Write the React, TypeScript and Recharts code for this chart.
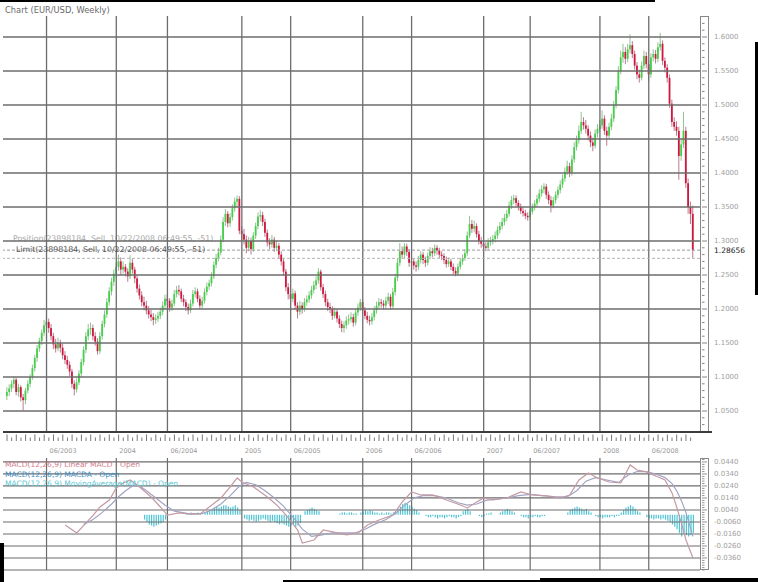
import React from 'react';
import { ComposedChart, Bar, Line, XAxis, YAxis, ReferenceLine } from 'recharts';

const FONT = '"DejaVu Sans", Verdana, sans-serif';
const GRID = '#6c6c6c';

// weekly candles [open, high, low, close]
const candles2003 = [
  [1.072, 1.085, 1.066, 1.078], [1.078, 1.089, 1.072, 1.083], [1.083, 1.095, 1.078, 1.09], [1.09, 1.101, 1.084, 1.096], [1.096, 1.099, 1.073, 1.078],
  [1.078, 1.09, 1.071, 1.085], [1.085, 1.088, 1.064, 1.07], [1.07, 1.075, 1.051, 1.066], [1.066, 1.084, 1.06, 1.08], [1.08, 1.095, 1.076, 1.09],
  [1.09, 1.104, 1.085, 1.1], [1.1, 1.118, 1.096, 1.113], [1.113, 1.133, 1.108, 1.128], [1.128, 1.147, 1.122, 1.142], [1.142, 1.158, 1.137, 1.153],
  [1.153, 1.17, 1.147, 1.165], [1.165, 1.184, 1.16, 1.176], [1.176, 1.192, 1.168, 1.181], [1.181, 1.186, 1.165, 1.172], [1.172, 1.178, 1.154, 1.16],
  [1.16, 1.165, 1.141, 1.148], [1.148, 1.156, 1.136, 1.142], [1.142, 1.158, 1.138, 1.15], [1.15, 1.155, 1.136, 1.143], [1.143, 1.149, 1.126, 1.132],
  [1.132, 1.138, 1.119, 1.125], [1.125, 1.131, 1.112, 1.118], [1.118, 1.123, 1.101, 1.108], [1.108, 1.112, 1.084, 1.09], [1.09, 1.095, 1.073, 1.082],
  [1.082, 1.098, 1.077, 1.092], [1.092, 1.11, 1.088, 1.105], [1.105, 1.127, 1.1, 1.122], [1.122, 1.145, 1.117, 1.14], [1.14, 1.166, 1.135, 1.16],
  [1.16, 1.178, 1.154, 1.17], [1.17, 1.18, 1.162, 1.172], [1.172, 1.177, 1.154, 1.16], [1.16, 1.166, 1.146, 1.152], [1.152, 1.157, 1.133, 1.138],
  [1.138, 1.166, 1.134, 1.16], [1.16, 1.183, 1.155, 1.178], [1.178, 1.198, 1.173, 1.192], [1.192, 1.216, 1.187, 1.21], [1.21, 1.232, 1.205, 1.226],
  [1.226, 1.246, 1.22, 1.24], [1.24, 1.258, 1.234, 1.252],
];
const candles2004 = [
  [1.252, 1.268, 1.246, 1.262], [1.262, 1.28, 1.256, 1.27], [1.27, 1.276, 1.25, 1.258], [1.258, 1.27, 1.252, 1.262], [1.262, 1.266, 1.248, 1.255],
  [1.255, 1.26, 1.24, 1.248], [1.248, 1.279, 1.244, 1.268], [1.268, 1.274, 1.252, 1.258], [1.258, 1.262, 1.238, 1.245], [1.245, 1.25, 1.224, 1.23],
  [1.23, 1.236, 1.214, 1.22], [1.22, 1.226, 1.204, 1.21], [1.21, 1.218, 1.198, 1.205], [1.205, 1.212, 1.192, 1.198], [1.198, 1.204, 1.186, 1.192],
  [1.192, 1.199, 1.182, 1.188], [1.188, 1.194, 1.176, 1.184], [1.184, 1.192, 1.178, 1.186], [1.186, 1.196, 1.181, 1.19], [1.19, 1.202, 1.185, 1.196],
  [1.196, 1.211, 1.191, 1.205], [1.205, 1.221, 1.2, 1.215], [1.215, 1.222, 1.206, 1.212], [1.212, 1.216, 1.196, 1.202], [1.202, 1.214, 1.197, 1.208],
  [1.208, 1.228, 1.204, 1.222], [1.222, 1.234, 1.217, 1.228], [1.228, 1.235, 1.22, 1.226], [1.226, 1.23, 1.21, 1.215], [1.215, 1.221, 1.204, 1.21],
  [1.21, 1.214, 1.197, 1.203], [1.203, 1.208, 1.192, 1.198], [1.198, 1.214, 1.194, 1.208], [1.208, 1.228, 1.204, 1.222], [1.222, 1.232, 1.217, 1.226],
  [1.226, 1.23, 1.21, 1.215], [1.215, 1.22, 1.2, 1.205], [1.205, 1.218, 1.201, 1.212], [1.212, 1.23, 1.208, 1.225], [1.225, 1.239, 1.22, 1.233],
  [1.233, 1.243, 1.228, 1.238], [1.238, 1.254, 1.233, 1.248], [1.248, 1.27, 1.244, 1.265], [1.265, 1.281, 1.26, 1.275], [1.275, 1.29, 1.27, 1.283],
  [1.283, 1.308, 1.279, 1.302], [1.302, 1.335, 1.298, 1.328], [1.328, 1.347, 1.322, 1.34], [1.34, 1.344, 1.32, 1.326], [1.326, 1.341, 1.321, 1.335],
  [1.335, 1.354, 1.33, 1.348], [1.348, 1.364, 1.343, 1.358], [1.358, 1.367, 1.35, 1.362], [1.362, 1.366, 1.31, 1.315],
];
const candles2005 = [
  [1.315, 1.322, 1.302, 1.31], [1.31, 1.318, 1.295, 1.302], [1.302, 1.308, 1.282, 1.29], [1.29, 1.306, 1.285, 1.3], [1.3, 1.305, 1.28, 1.288],
  [1.288, 1.313, 1.284, 1.308], [1.308, 1.327, 1.303, 1.322], [1.322, 1.342, 1.317, 1.336], [1.336, 1.345, 1.329, 1.338], [1.338, 1.343, 1.322, 1.328],
  [1.328, 1.333, 1.306, 1.312], [1.312, 1.317, 1.292, 1.298], [1.298, 1.304, 1.288, 1.295], [1.295, 1.309, 1.29, 1.302], [1.302, 1.306, 1.284, 1.29],
  [1.29, 1.3, 1.285, 1.293], [1.293, 1.297, 1.274, 1.28], [1.28, 1.285, 1.264, 1.27], [1.27, 1.275, 1.249, 1.255], [1.255, 1.259, 1.226, 1.232],
  [1.232, 1.238, 1.214, 1.222], [1.222, 1.228, 1.206, 1.215], [1.215, 1.23, 1.21, 1.223], [1.223, 1.227, 1.199, 1.205], [1.205, 1.21, 1.186, 1.196],
  [1.196, 1.212, 1.191, 1.205], [1.205, 1.21, 1.193, 1.2], [1.2, 1.216, 1.196, 1.21], [1.21, 1.22, 1.205, 1.214], [1.214, 1.226, 1.209, 1.22],
  [1.22, 1.234, 1.215, 1.228], [1.228, 1.241, 1.223, 1.235], [1.235, 1.248, 1.229, 1.242], [1.242, 1.26, 1.237, 1.255], [1.255, 1.258, 1.227, 1.232],
  [1.232, 1.237, 1.216, 1.222], [1.222, 1.227, 1.204, 1.21], [1.21, 1.215, 1.197, 1.203], [1.203, 1.209, 1.194, 1.2], [1.2, 1.204, 1.184, 1.19],
  [1.19, 1.202, 1.186, 1.196], [1.196, 1.2, 1.18, 1.186], [1.186, 1.191, 1.172, 1.178], [1.178, 1.183, 1.166, 1.172], [1.172, 1.182, 1.165, 1.176],
  [1.176, 1.189, 1.171, 1.183], [1.183, 1.192, 1.177, 1.185], [1.185, 1.195, 1.18, 1.188], [1.188, 1.193, 1.174, 1.18], [1.18, 1.2, 1.176, 1.195],
  [1.195, 1.208, 1.19, 1.202], [1.202, 1.215, 1.197, 1.21],
];
const candles2006 = [
  [1.21, 1.214, 1.193, 1.198], [1.198, 1.203, 1.185, 1.19], [1.19, 1.196, 1.179, 1.184], [1.184, 1.19, 1.176, 1.182], [1.182, 1.194, 1.177, 1.188],
  [1.188, 1.204, 1.183, 1.198], [1.198, 1.211, 1.193, 1.205], [1.205, 1.216, 1.2, 1.21], [1.21, 1.215, 1.202, 1.208], [1.208, 1.213, 1.199, 1.205],
  [1.205, 1.218, 1.2, 1.212], [1.212, 1.224, 1.207, 1.218], [1.218, 1.222, 1.199, 1.204], [1.204, 1.231, 1.2, 1.225], [1.225, 1.252, 1.22, 1.246],
  [1.246, 1.274, 1.241, 1.268], [1.268, 1.297, 1.263, 1.285], [1.285, 1.292, 1.274, 1.28], [1.28, 1.297, 1.275, 1.292], [1.292, 1.296, 1.278, 1.284],
  [1.284, 1.288, 1.262, 1.268], [1.268, 1.276, 1.262, 1.27], [1.27, 1.275, 1.258, 1.264], [1.264, 1.27, 1.255, 1.262], [1.262, 1.278, 1.257, 1.272],
  [1.272, 1.285, 1.267, 1.28], [1.28, 1.284, 1.266, 1.272], [1.272, 1.277, 1.262, 1.268], [1.268, 1.283, 1.264, 1.278], [1.278, 1.291, 1.273, 1.285],
  [1.285, 1.29, 1.276, 1.282], [1.282, 1.295, 1.278, 1.29], [1.29, 1.294, 1.28, 1.286], [1.286, 1.29, 1.275, 1.28], [1.28, 1.285, 1.272, 1.278],
  [1.278, 1.282, 1.266, 1.272], [1.272, 1.277, 1.261, 1.266], [1.266, 1.276, 1.262, 1.27], [1.27, 1.274, 1.257, 1.262], [1.262, 1.267, 1.251, 1.256],
  [1.256, 1.261, 1.248, 1.252], [1.252, 1.267, 1.249, 1.262], [1.262, 1.275, 1.258, 1.27], [1.27, 1.28, 1.265, 1.275], [1.275, 1.288, 1.271, 1.282],
  [1.282, 1.314, 1.278, 1.308], [1.308, 1.337, 1.304, 1.325], [1.325, 1.331, 1.312, 1.318], [1.318, 1.33, 1.313, 1.322], [1.322, 1.326, 1.305, 1.31],
  [1.31, 1.315, 1.295, 1.3], [1.3, 1.306, 1.29, 1.296],
];
const candles2007 = [
  [1.296, 1.301, 1.287, 1.292], [1.292, 1.298, 1.285, 1.29], [1.29, 1.304, 1.287, 1.298], [1.298, 1.306, 1.293, 1.3], [1.3, 1.309, 1.295, 1.303],
  [1.303, 1.314, 1.298, 1.308], [1.308, 1.322, 1.303, 1.316], [1.316, 1.328, 1.311, 1.322], [1.322, 1.334, 1.317, 1.328], [1.328, 1.34, 1.323, 1.334],
  [1.334, 1.346, 1.329, 1.34], [1.34, 1.358, 1.336, 1.352], [1.352, 1.366, 1.347, 1.36], [1.36, 1.368, 1.354, 1.363], [1.363, 1.367, 1.351, 1.356],
  [1.356, 1.36, 1.345, 1.35], [1.35, 1.355, 1.34, 1.344], [1.344, 1.35, 1.336, 1.341], [1.341, 1.346, 1.332, 1.337], [1.337, 1.342, 1.33, 1.335],
  [1.335, 1.348, 1.331, 1.343], [1.343, 1.355, 1.339, 1.35], [1.35, 1.36, 1.345, 1.355], [1.355, 1.368, 1.35, 1.362], [1.362, 1.376, 1.357, 1.37],
  [1.37, 1.382, 1.365, 1.376], [1.376, 1.385, 1.37, 1.38], [1.38, 1.384, 1.362, 1.368], [1.368, 1.373, 1.354, 1.36], [1.36, 1.366, 1.342, 1.352],
  [1.352, 1.365, 1.348, 1.36], [1.36, 1.373, 1.355, 1.368], [1.368, 1.38, 1.363, 1.375], [1.375, 1.389, 1.37, 1.383], [1.383, 1.398, 1.378, 1.392],
  [1.392, 1.408, 1.387, 1.402], [1.402, 1.418, 1.397, 1.41], [1.41, 1.415, 1.394, 1.4], [1.4, 1.426, 1.396, 1.42], [1.42, 1.445, 1.415, 1.438],
  [1.438, 1.455, 1.433, 1.448], [1.448, 1.47, 1.443, 1.462], [1.462, 1.49, 1.457, 1.475], [1.475, 1.482, 1.464, 1.47], [1.47, 1.478, 1.458, 1.465],
  [1.465, 1.47, 1.448, 1.455], [1.455, 1.461, 1.438, 1.445], [1.445, 1.452, 1.432, 1.44], [1.44, 1.464, 1.436, 1.458], [1.458, 1.472, 1.452, 1.465],
];
const candles2008 = [
  [1.465, 1.478, 1.46, 1.47], [1.47, 1.492, 1.465, 1.48], [1.48, 1.485, 1.456, 1.462], [1.462, 1.468, 1.44, 1.455], [1.455, 1.474, 1.45, 1.468],
  [1.468, 1.487, 1.463, 1.48], [1.48, 1.506, 1.475, 1.5], [1.5, 1.528, 1.495, 1.522], [1.522, 1.557, 1.517, 1.55], [1.55, 1.58, 1.545, 1.57],
  [1.57, 1.59, 1.562, 1.578], [1.578, 1.585, 1.56, 1.568], [1.568, 1.59, 1.563, 1.582], [1.582, 1.604, 1.576, 1.588], [1.588, 1.594, 1.569, 1.575],
  [1.575, 1.58, 1.552, 1.558], [1.558, 1.563, 1.538, 1.545], [1.545, 1.552, 1.533, 1.54], [1.54, 1.564, 1.536, 1.558], [1.558, 1.58, 1.553, 1.572],
  [1.572, 1.578, 1.554, 1.56], [1.56, 1.566, 1.535, 1.545], [1.545, 1.576, 1.54, 1.57], [1.57, 1.582, 1.564, 1.575], [1.575, 1.581, 1.561, 1.568],
  [1.568, 1.592, 1.563, 1.585], [1.585, 1.606, 1.58, 1.59], [1.59, 1.595, 1.559, 1.565], [1.565, 1.57, 1.548, 1.555], [1.555, 1.56, 1.533, 1.54],
  [1.54, 1.545, 1.496, 1.502], [1.502, 1.508, 1.468, 1.475], [1.475, 1.482, 1.462, 1.468], [1.468, 1.476, 1.455, 1.462], [1.462, 1.468, 1.39, 1.425],
  [1.425, 1.45, 1.418, 1.442], [1.442, 1.49, 1.437, 1.462], [1.462, 1.468, 1.378, 1.385], [1.385, 1.392, 1.34, 1.35], [1.35, 1.358, 1.325, 1.34],
  [1.34, 1.352, 1.275, 1.28656],
];

// time axis labels, placed at week indexes
const timeTickWeeks = [17, 47, 69, 101, 122, 153, 174, 205, 225, 255, 276];
const timeTickLabels = ['06/2003', '2004', '06/2004', '2005', '06/2005', '2006', '06/2006', '2007', '06/2007', '2008', '06/2008'];

const priceTicks = [1.05, 1.1, 1.15, 1.2, 1.25, 1.3, 1.35, 1.4, 1.45, 1.5, 1.55, 1.6];
const macdTicks = [0.044, 0.034, 0.024, 0.014, 0.004, -0.006, -0.016, -0.026, -0.036];

const lastPrice = 1.28656;
const limitPrice = 1.2745;
const positionPrice = 1.2995;
const positionText = 'Position(23898184, Sell, 10/22/2008 06:49:55, -51)';
const limitText = 'Limit(23898184, Sell, 10/22/2008 06:49:55, -51)';

// MACD panel, [week, value]
const macdPoints = [
  [25, -0.0085], [28, -0.0125], [30, -0.0152], [34, -0.0068], [37, -0.0005], [40, 0.0065], [44, 0.0123], [47, 0.0223],
  [50, 0.0265], [53, 0.029], [57, 0.0232], [62, 0.0148], [66, 0.0065], [69, -0.0002], [74, 0.0015], [79, 0.0005],
  [83, 0.0007], [87, 0.0065], [92, 0.014], [96, 0.0232], [99, 0.0307], [101, 0.0273], [106, 0.0232], [112, 0.0148],
  [116, 0.0082], [120, -0.0002], [125, -0.0127], [127, -0.0235], [132, -0.021], [136, -0.0127], [140, -0.0143], [146, -0.0168],
  [151, -0.0152], [155, -0.0085], [160, -0.0043], [166, -0.0002], [170, 0.0107], [174, 0.019], [178, 0.0165], [183, 0.0165],
  [189, 0.0123], [195, 0.0082], [198, 0.0057], [202, 0.0107], [205, 0.014], [209, 0.0123], [215, 0.014], [221, 0.019],
  [226, 0.0165], [232, 0.0157], [238, 0.014], [242, 0.0165], [246, 0.029], [250, 0.0348], [254, 0.0307], [259, 0.0273],
  [264, 0.0265], [268, 0.0415], [271, 0.0373], [275, 0.0357], [280, 0.0315], [283, 0.029], [286, 0.0182], [288, 0.0065],
  [290, -0.0068], [292, -0.021], [295, -0.036],
];
const signalPoints = [
  [33, -0.008], [37, -0.004], [41, 0.002], [45, 0.009], [48, 0.015], [51, 0.02], [54, 0.024], [57, 0.024],
  [60, 0.02], [64, 0.014], [68, 0.008], [72, 0.003], [78, 0.001], [84, 0.001], [88, 0.004], [92, 0.009],
  [96, 0.016], [100, 0.024], [103, 0.027], [107, 0.025], [111, 0.02], [115, 0.014], [119, 0.007], [123, -0.002],
  [127, -0.012], [131, -0.018], [135, -0.017], [140, -0.015], [145, -0.015], [150, -0.015], [154, -0.012], [158, -0.008],
  [163, -0.004], [167, 0.001], [171, 0.008], [175, 0.014], [179, 0.016], [184, 0.016], [189, 0.014], [194, 0.01],
  [198, 0.008], [202, 0.009], [206, 0.012], [210, 0.013], [215, 0.014], [220, 0.016], [225, 0.017], [230, 0.016],
  [236, 0.015], [241, 0.015], [245, 0.02], [249, 0.028], [253, 0.031], [258, 0.029], [263, 0.027], [267, 0.033],
  [271, 0.036], [275, 0.036], [279, 0.034], [283, 0.031], [286, 0.026], [288, 0.02], [290, 0.012], [292, 0.002],
  [295, -0.018],
];
// histogram runs: [first week, values in thousandths]
const histSegments: [number, number[]][] = [
  [59, [-4, -6, -8, -9, -10, -9, -8, -7, -6, -4]],
  [77, [1, 1, 2, 1, 1, 2, 1]],
  [85, [2, 3, 4, 5, 6, 7, 6, 7, 8, 8, 7, 6, 7, 8, 6, 4]],
  [102, [-3, -4, -5, -4, -5, -6, -5, -4, -3]],
  [111, [-4, -5, -6, -5, -6, -7, -8, -7, -8, -9, -10, -9, -8, -10, -9, -7]],
  [128, [3, 4, 5, 6, 5, 4, 3]],
  [143, [1, 2, 2, 1, 2, 2, 1, 1]],
  [152, [2, 3, 4, 3, 4, 3, 2, 2]],
  [160, [1, 2, 1, 2, 2, 1, 2]],
  [167, [3, 5, 7, 9, 10, 9, 8, 7, 5, 4, 2]],
  [180, [-1, -2, -2, -1, -2, -3, -2, -2, -3, -2, -1, -2, -2, -3, -2, -1]],
  [196, [3, 4, 5, 3]],
  [203, [-1, -2, -1, 1, 1, 2]],
  [212, [2, 3, 4, 5, 4, 3, 2]],
  [221, [-1, -2, -2, -3, -2, -2, -1, -2, -2, -1, -1]],
  [241, [2, 4, 5, 6, 7, 6, 5, 4, 5, 3, 2]],
  [253, [-1, -2, -2, -3, -2, -2, -2, -1, -2, -1, -1]],
  [264, [2, 4, 6, 7, 8, 7, 5, 3, 2]],
  [275, [-2, -3, -3, -4, -3, -3, -4, -3, -4, -5, -6]],
  [286, [-8, -10, -12, -15, -18, -16, -17, -18, -17, -15]],
];

const allCandles = [...candles2003, ...candles2004, ...candles2005, ...candles2006, ...candles2007, ...candles2008];

const rows: any[] = allCandles.map(([o, h, l, c], i) => ({
  i, o, h, l, c, range: [l, h], macd: null, signal: null, hist: null,
}));
macdPoints.forEach(([w, v]) => { rows[w].macd = v; });
signalPoints.forEach(([w, v]) => { rows[w].signal = v; });
histSegments.forEach(([start, vals]) => vals.forEach((v, k) => { rows[start + k].hist = v / 1000; }));

// ruler marks on the axes
const rulerWeeks = Array.from(new Set([...rows.filter((r) => r.i % 2 === 0).map((r) => r.i), ...timeTickWeeks])).sort((a, b) => a - b);
const priceRuler = Array.from({ length: 62 }, (_, k) => Math.round((1.02 + k * 0.01) * 100) / 100);
const macdRuler = Array.from({ length: 47 }, (_, k) => Math.round((-0.046 + k * 0.002) * 1000) / 1000);

const X_PAD = { left: 2.84, right: 5.9 };

function renderCandle(props: any) {
  const { x, y, width, height } = props;
  const d = props.payload || props;
  if (!d || !Number.isFinite(y) || !Number.isFinite(height)) return <g />;
  const top = Math.min(y, y + height);
  const span = Math.abs(height);
  const k = span / (d.h - d.l || 1);
  const cx = x + width / 2;
  const bodyTop = top + (d.h - Math.max(d.o, d.c)) * k;
  const bodyBot = top + (d.h - Math.min(d.o, d.c)) * k;
  const up = d.c >= d.o;
  return (
    <g>
      <line x1={cx} x2={cx} y1={top} y2={top + span} stroke={up ? '#78b078' : '#a65c74'} strokeWidth={0.8} />
      <rect x={cx - 0.9} y={bodyTop} width={1.8} height={Math.max(0.8, bodyBot - bodyTop)} fill={up ? '#45cf4a' : '#d0183e'} />
    </g>
  );
}

function renderTimeTick(props: any) {
  const { x, y, payload } = props;
  const w = payload.value;
  const li = timeTickWeeks.indexOf(w);
  const tall = w % 4 === 0;
  return (
    <g>
      {w % 2 === 0 && <line x1={x} x2={x} y1={y + 9} y2={y + (tall ? 2.5 : 5.5)} stroke="#555" strokeWidth={0.8} />}
      {li >= 0 && (
        <text x={x + 3} y={y + 19} fontSize={6.5} fill="#9a9a9a" fontFamily={FONT} dominantBaseline="central">
          {timeTickLabels[li]}
        </text>
      )}
    </g>
  );
}

function renderPriceTick(props: any) {
  const { x, y, payload } = props;
  const v = payload.value;
  const major = priceTicks.some((p) => Math.abs(p - v) < 1e-6);
  return (
    <g>
      <line x1={x + 2} x2={x + (major ? 7 : 4.5)} y1={y} y2={y} stroke="#666" strokeWidth={0.8} />
      {major && (
        <text x={x + 14} y={y} fontSize={7} fill="#a0a0a0" fontFamily={FONT} dominantBaseline="central">
          {v.toFixed(4)}
        </text>
      )}
    </g>
  );
}

function renderMacdTick(props: any) {
  const { x, y, payload } = props;
  const v = payload.value;
  const major = macdTicks.some((p) => Math.abs(p - v) < 1e-6);
  return (
    <g>
      <line x1={x + 2} x2={x + (major ? 7 : 4.5)} y1={y} y2={y} stroke="#666" strokeWidth={0.7} />
      {major && (
        <text x={x + 14} y={y} fontSize={7} fill="#a0a0a0" fontFamily={FONT} dominantBaseline="central">
          {v.toFixed(4)}
        </text>
      )}
    </g>
  );
}

function LastPriceLabel(props: any) {
  const vb = props.viewBox || {};
  return (
    <text x={vb.x + vb.width + 14} y={vb.y} fontSize={7.5} fill="#222" fontFamily={FONT} dominantBaseline="central">
      {lastPrice.toFixed(5)}
    </text>
  );
}

function LimitLabel(props: any) {
  const vb = props.viewBox || {};
  return (
    <text x={vb.x + 13} y={vb.y - 9} fontSize={7.8} fill="#555" fontFamily={FONT} dominantBaseline="central">
      {limitText}
    </text>
  );
}

function PositionLabel(props: any) {
  const vb = props.viewBox || {};
  return (
    <text x={vb.x + 10} y={vb.y - 2.5} fontSize={7.8} fill="#a8a8a8" fontFamily={FONT} dominantBaseline="central">
      {positionText}
    </text>
  );
}

export default function App() {
  return (
    <div style={{ position: 'relative', width: 758, height: 582, background: '#fff', overflow: 'hidden', fontFamily: FONT }}>
      <style>{'body{margin:0}'}</style>

      <div style={{ position: 'absolute', left: 5, top: 5, fontSize: 8.3, color: '#6a6a6a', whiteSpace: 'nowrap' }}>
        Chart (EUR/USD, Weekly)
      </div>

      <div style={{ position: 'absolute', left: 0, top: 0 }}>
        <ComposedChart width={758} height={462} data={rows} margin={{ top: 16, right: 0, bottom: 0, left: 3 }}>
          <XAxis
            dataKey="i"
            padding={X_PAD}
            ticks={rulerWeeks}
            interval={0}
            tickLine={false}
            tickSize={0}
            tickMargin={0}
            axisLine={{ stroke: '#3c3c3c', strokeWidth: 2 }}
            tick={renderTimeTick}
            height={30}
          />
          <YAxis
            orientation="right"
            width={58}
            domain={[1.01912, 1.63088]}
            allowDataOverflow
            ticks={priceRuler}
            interval={0}
            axisLine={false}
            tickLine={false}
            tickSize={0}
            tickMargin={0}
            tick={renderPriceTick}
          />
          <ReferenceLine y={positionPrice} stroke="none" label={<PositionLabel />} />
          {priceTicks.map((p) => (
            <ReferenceLine key={'h' + p} y={p} stroke={GRID} strokeWidth={1.3} />
          ))}
          {timeTickWeeks.map((w) => (
            <ReferenceLine key={'v' + w} x={w} stroke={GRID} strokeWidth={1.3} />
          ))}
          <Bar dataKey="range" shape={renderCandle} barSize={2} isAnimationActive={false} />
          <ReferenceLine y={lastPrice} stroke="#9a9a9a" strokeDasharray="3 2" label={<LastPriceLabel />} />
          <ReferenceLine y={limitPrice} stroke="#b4b4b4" strokeDasharray="3 2" label={<LimitLabel />} />
        </ComposedChart>
      </div>

      <div style={{ position: 'absolute', left: 700, top: 16, width: 9, height: 416, border: '1px solid #888', boxSizing: 'border-box' }} />
      <div style={{ position: 'absolute', left: 700, top: 431, width: 12, height: 2, background: '#3c3c3c' }} />

      <div style={{ position: 'absolute', left: 0, top: 456 }}>
        <ComposedChart width={758} height={120} data={rows} margin={{ top: 2, right: 0, bottom: 6, left: 3 }}>
          <XAxis dataKey="i" padding={X_PAD} hide />
          <YAxis
            orientation="right"
            width={58}
            domain={[-0.046, 0.0473]}
            allowDataOverflow
            ticks={macdRuler}
            interval={0}
            axisLine={false}
            tickLine={false}
            tickSize={0}
            tickMargin={0}
            tick={renderMacdTick}
          />
          {[...macdTicks, -0.046].map((p) => (
            <ReferenceLine key={'mh' + p} y={p} stroke={GRID} strokeWidth={1.2} />
          ))}
          {timeTickWeeks.map((w) => (
            <ReferenceLine key={'mv' + w} x={w} stroke={GRID} strokeWidth={1.2} />
          ))}
          <Bar dataKey="hist" fill="#4cc4d4" barSize={1.2} isAnimationActive={false} />
          <Line dataKey="signal" stroke="#a2a4c2" strokeWidth={1.2} dot={false} connectNulls isAnimationActive={false} />
          <Line dataKey="macd" stroke="#c49aa4" strokeWidth={1.2} dot={false} connectNulls isAnimationActive={false} />
        </ComposedChart>
      </div>

      <div style={{ position: 'absolute', left: 700, top: 458, width: 9, height: 112, border: '1px solid #888', boxSizing: 'border-box' }} />

      <div style={{ position: 'absolute', left: 5, top: 460, fontSize: 7.5, lineHeight: '9.5px', whiteSpace: 'nowrap' }}>
        <div style={{ color: '#d07c8c' }}>MACD(12,26,9) Linear MACD - Open</div>
        <div style={{ color: '#3a8dc4' }}>MACD(12,26,9) MACDA - Open</div>
        <div style={{ color: '#5cc8d4' }}>MACD(12,26,9) MovingAverage(MACD) - Open</div>
      </div>

      {/* dark edges of the original screenshot */}
      <div style={{ position: 'absolute', left: 0, top: 0, width: 655, height: 2, background: '#000' }} />
      <div style={{ position: 'absolute', left: 755, top: 42, width: 3, height: 253, background: '#000' }} />
      <div style={{ position: 'absolute', left: 283, top: 580, width: 475, height: 2, background: '#000' }} />
      <div style={{ position: 'absolute', left: 540, top: 578, width: 218, height: 4, background: '#000' }} />
      <div style={{ position: 'absolute', left: 0, top: 543, width: 4, height: 39, background: '#000' }} />
    </div>
  );
}
